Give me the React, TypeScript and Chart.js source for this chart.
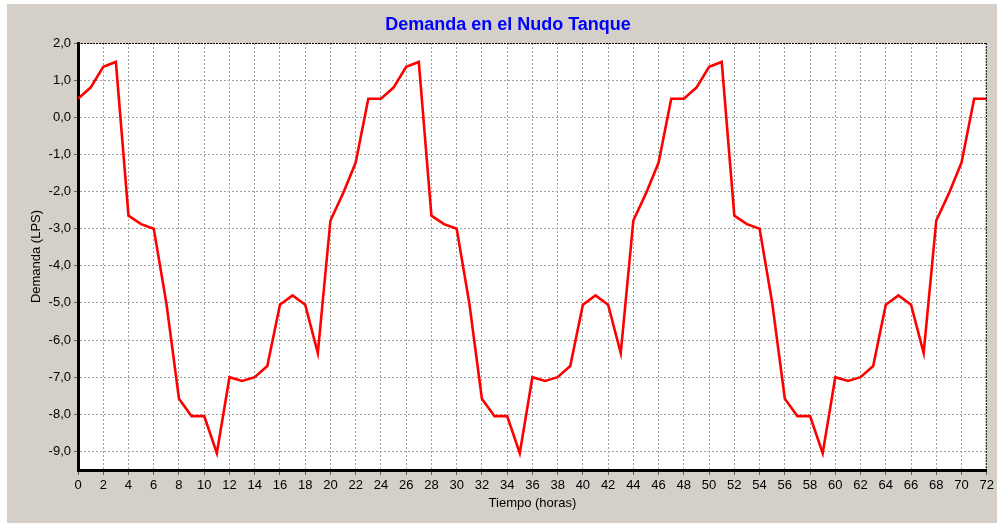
import React, { useEffect, useRef } from "react";
import { Chart, registerables } from "chart.js";

Chart.register(...registerables);

const TITLE = "Demanda en el Nudo Tanque";
const X_TITLE = "Tiempo (horas)";
const Y_TITLE = "Demanda (LPS)";

const hours: number[] = [
  0, 1, 2, 3, 4, 5, 6, 7, 8, 9, 10, 11, 12, 13, 14, 15, 16, 17, 18, 19, 20, 21, 22, 23,
  24, 25, 26, 27, 28, 29, 30, 31, 32, 33, 34, 35, 36, 37, 38, 39, 40, 41, 42, 43, 44, 45, 46, 47,
  48, 49, 50, 51, 52, 53, 54, 55, 56, 57, 58, 59, 60, 61, 62, 63, 64, 65, 66, 67, 68, 69, 70, 71,
  72,
];

const demanda: number[] = [
  0.5, 0.8, 1.36, 1.49, -2.65, -2.88, -3.0, -5.0, -7.58, -8.05, -8.05, -9.05,
  -7.0, -7.1, -7.0, -6.7, -5.05, -4.8, -5.05, -6.35, -2.78, -2.05, -1.22, 0.5,
  0.5, 0.8, 1.36, 1.49, -2.65, -2.88, -3.0, -5.0, -7.58, -8.05, -8.05, -9.05,
  -7.0, -7.1, -7.0, -6.7, -5.05, -4.8, -5.05, -6.35, -2.78, -2.05, -1.22, 0.5,
  0.5, 0.8, 1.36, 1.49, -2.65, -2.88, -3.0, -5.0, -7.58, -8.05, -8.05, -9.05,
  -7.0, -7.1, -7.0, -6.7, -5.05, -4.8, -5.05, -6.35, -2.78, -2.05, -1.22, 0.5,
  0.5,
];

const FONT = "'Liberation Sans', Arial, Helvetica, sans-serif";

export default function App() {
  const ref = useRef<HTMLCanvasElement | null>(null);

  useEffect(() => {
    if (!ref.current) return;
    const framePlugin = {
      id: "frameAndTitle",
      beforeDraw(chart: any) {
        const { ctx, chartArea } = chart;
        ctx.save();
        ctx.fillStyle = "#ffffff";
        ctx.fillRect(chartArea.left, chartArea.top, chartArea.right - chartArea.left, chartArea.bottom - chartArea.top);
        ctx.restore();
      },
      afterDraw(chart: any) {
        const { ctx, chartArea } = chart;
        ctx.save();
        ctx.strokeStyle = "#000000";
        ctx.lineWidth = 1;
        ctx.setLineDash([2, 1]);
        ctx.beginPath();
        ctx.moveTo(chartArea.left, chartArea.top + 0.5);
        ctx.lineTo(chartArea.right, chartArea.top + 0.5);
        ctx.moveTo(chartArea.right - 0.5, chartArea.top);
        ctx.lineTo(chartArea.right - 0.5, chartArea.bottom);
        ctx.stroke();
        ctx.setLineDash([]);
        ctx.fillStyle = "#0000ff";
        ctx.font = `bold 18px ${FONT}`;
        ctx.textAlign = "center";
        ctx.textBaseline = "middle";
        ctx.fillText(TITLE, 501, 21);
        ctx.restore();
      },
    };

    const chart = new Chart(ref.current, {
      type: "line",
      data: {
        datasets: [
          {
            label: "Demanda",
            data: hours.map((h, i) => ({ x: h, y: demanda[i] })),
            borderColor: "#ff0000",
            backgroundColor: "#ff0000",
            borderWidth: 2.6,
            pointRadius: 0,
            tension: 0,
            fill: false,
          },
        ],
      },
      options: {
        animation: false,
        responsive: false,
        maintainAspectRatio: false,
        layout: { padding: { top: 39, right: 9, left: 0, bottom: 0 } },
        plugins: {
          legend: { display: false },
          title: { display: false },
          tooltip: { enabled: false },
        },
        scales: {
          x: {
            type: "linear",
            min: 0,
            max: 72,
            afterFit: (s: any) => {
              s.height = 53;
            },
            ticks: {
              stepSize: 2,
              autoSkip: false,
              maxRotation: 0,
              padding: 3,
              color: "#000000",
              font: { family: FONT, size: 13 },
            },
            grid: {
              color: "#a0a0a0",
              tickLength: 5,
              tickColor: "#606060",
              tickBorderDash: [],
              lineWidth: 1,
            } as any,
            border: { display: true, color: "#000000", width: 3, dash: [2, 2] },
            title: {
              display: true,
              text: X_TITLE,
              color: "#000000",
              font: { family: FONT, size: 13 },
              padding: { top: 0, bottom: 12 },
            },
          },
          y: {
            type: "linear",
            min: -9.5,
            max: 2,
            afterFit: (s: any) => {
              s.width = 71;
            },
            ticks: {
              stepSize: 1,
              includeBounds: false,
              padding: 3,
              color: "#000000",
              font: { family: FONT, size: 13 },
              callback: (v: any) => Number(v).toFixed(1).replace(".", ",").replace("-0,0", "0,0"),
            },
            grid: {
              color: "#a0a0a0",
              tickLength: 4,
              tickColor: "#606060",
              tickBorderDash: [],
              lineWidth: 1,
            } as any,
            border: { display: true, color: "#000000", width: 3, dash: [2, 2] },
            title: {
              display: true,
              text: Y_TITLE,
              color: "#000000",
              font: { family: FONT, size: 13 },
              padding: { top: 22, bottom: 0 },
            },
          },
        },
      },
      plugins: [framePlugin],
    } as any);
    return () => chart.destroy();
  }, []);

  return (
    <div
      style={{
        position: "absolute",
        left: 7,
        top: 4,
        width: 990,
        height: 519,
        background: "#d4d0c8",
      }}
    >
      <canvas ref={ref} width={990} height={519} style={{ display: "block", width: 990, height: 519 }} />
    </div>
  );
}
